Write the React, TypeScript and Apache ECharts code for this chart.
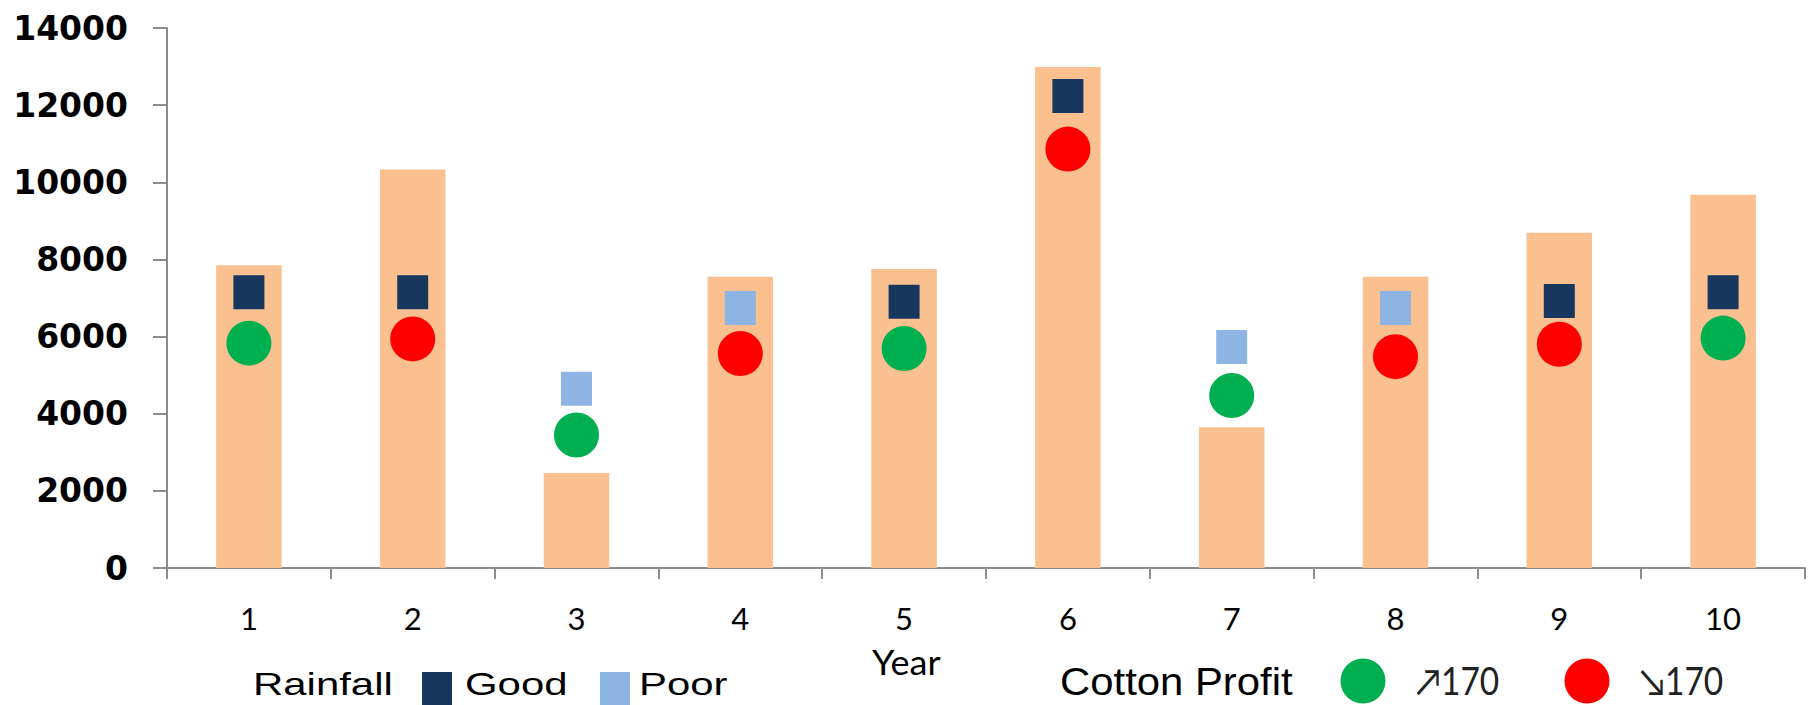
import React, { useEffect, useRef } from "react";
import * as echarts from "echarts";

const years = ["1", "2", "3", "4", "5", "6", "7", "8", "9", "10"];
const barValues = [7850, 10330, 2460, 7550, 7750, 12990, 3650, 7550, 8690, 9680];
const rainfallValues = [7150, 7150, 4650, 6740, 6900, 12240, 5730, 6740, 6920, 7150];
const rainfallClass = ["Good", "Good", "Poor", "Poor", "Good", "Good", "Poor", "Poor", "Good", "Good"];
const profitValues = [5830, 5940, 3450, 5560, 5690, 10860, 4470, 5480, 5800, 5960];
const profitClass = ["↗170", "↘170", "↗170", "↘170", "↗170", "↘170", "↗170", "↘170", "↘170", "↗170"];
const rainfallNames = ["Good", "Poor"];
const profitNames = ["↗170", "↘170"];
const yMin = 0;
const yMax = 14000;
const yInterval = 2000;

const BAR_COLOR = "#fac090";
const RAIN_COLORS: Record<string, string> = { Good: "#17375e", Poor: "#8eb4e3" };
const PROFIT_COLORS: Record<string, string> = { "↗170": "#00b050", "↘170": "#ff0000" };
const AXIS_COLOR = "#8c8c8c";

export default function App() {
  const ref = useRef<HTMLDivElement>(null);
  useEffect(() => {
    if (!ref.current) return;
    const chart = echarts.init(ref.current, undefined, { renderer: "svg" });

    const rainSeries = rainfallNames.map((name) => ({
      name,
      type: "scatter",
      symbol: "rect",
      symbolSize: [31, 34],
      z: 3,
      itemStyle: { color: RAIN_COLORS[name], opacity: 1 },
      data: rainfallValues.map((v, i) => (rainfallClass[i] === name ? v : "-")),
    }));
    const profitSeries = profitNames.map((name) => ({
      name,
      type: "scatter",
      symbol: "circle",
      symbolSize: 45,
      z: 4,
      itemStyle: { color: PROFIT_COLORS[name], opacity: 1 },
      data: profitValues.map((v, i) => (profitClass[i] === name ? v : "-")),
    }));

    const legendFont = "Liberation Sans, Arial, sans-serif";
    const option: any = {
      animation: false,
      backgroundColor: "#ffffff",
      grid: { left: 167, right: 3, top: 28, bottom: 137 },
      xAxis: {
        type: "category",
        data: years,
        boundaryGap: true,
        axisLine: { show: true, lineStyle: { color: AXIS_COLOR, width: 2 } },
        axisTick: { show: true, length: 11, alignWithLabel: false, interval: 0, lineStyle: { color: AXIS_COLOR, width: 2 } },
        axisLabel: { margin: 34, fontFamily: "Lato, sans-serif", fontSize: 31, color: "#000", interval: 0 },
        splitLine: { show: false },
      },
      yAxis: {
        type: "value",
        min: yMin,
        max: yMax,
        interval: yInterval,
        axisLine: { show: true, lineStyle: { color: AXIS_COLOR, width: 2 } },
        axisTick: { show: true, length: 14, lineStyle: { color: AXIS_COLOR, width: 2 } },
        axisLabel: {
          margin: 39,
          fontFamily: "DejaVu Sans, sans-serif",
          fontWeight: "bold",
          fontSize: 33,
          color: "#000",
          formatter: (v: number) => String(v),
        },
        splitLine: { show: false },
      },
      series: [
        {
          name: "Value",
          type: "bar",
          barWidth: "40%",
          z: 2,
          itemStyle: { color: BAR_COLOR },
          data: barValues,
        },
        ...rainSeries,
        ...profitSeries,
      ],
      graphic: [
        {
          type: "text",
          x: 872,
          y: 661,
          scaleX: 1.06,
          style: { text: "Year", fontFamily: "Lato, sans-serif", fontSize: 34, fill: "#000", align: "left", verticalAlign: "middle" },
        },
        {
          type: "text",
          x: 253,
          y: 684,
          scaleX: 1.31,
          style: { text: "Rainfall", fontFamily: legendFont, fontSize: 32, fill: "#000", align: "left", verticalAlign: "middle" },
        },
        {
          type: "rect",
          shape: { x: 422, y: 672, width: 30, height: 34 },
          style: { fill: RAIN_COLORS["Good"] },
        },
        {
          type: "text",
          x: 465,
          y: 684,
          scaleX: 1.31,
          style: { text: "Good", fontFamily: legendFont, fontSize: 32, fill: "#000", align: "left", verticalAlign: "middle" },
        },
        {
          type: "rect",
          shape: { x: 600, y: 672, width: 30, height: 34 },
          style: { fill: RAIN_COLORS["Poor"] },
        },
        {
          type: "text",
          x: 639,
          y: 684,
          scaleX: 1.31,
          style: { text: "Poor", fontFamily: legendFont, fontSize: 32, fill: "#000", align: "left", verticalAlign: "middle" },
        },
        {
          type: "text",
          x: 1060,
          y: 681,
          scaleX: 1.06,
          style: { text: "Cotton Profit", fontFamily: legendFont, fontSize: 39.5, fill: "#000", align: "left", verticalAlign: "middle" },
        },
        {
          type: "circle",
          shape: { cx: 1363, cy: 681, r: 22.5 },
          style: { fill: PROFIT_COLORS["↗170"] },
        },
        {
          type: "text",
          x: 1416,
          y: 681,
          scaleX: 0.88,
          style: { text: "↗170", fontFamily: "Lato, DejaVu Sans, sans-serif", fontSize: 38, fill: "#222", align: "left", verticalAlign: "middle" },
        },
        {
          type: "circle",
          shape: { cx: 1587, cy: 681, r: 22.5 },
          style: { fill: PROFIT_COLORS["↘170"] },
        },
        {
          type: "text",
          x: 1640,
          y: 681,
          scaleX: 0.88,
          style: { text: "↘170", fontFamily: "Lato, DejaVu Sans, sans-serif", fontSize: 38, fill: "#222", align: "left", verticalAlign: "middle" },
        },
      ],
    };
    chart.setOption(option);
    return () => chart.dispose();
  }, []);
  return (
    <div
      ref={ref}
      style={{ position: "absolute", left: 0, top: 0, width: 1808, height: 705, background: "#fff" }}
    />
  );
}
